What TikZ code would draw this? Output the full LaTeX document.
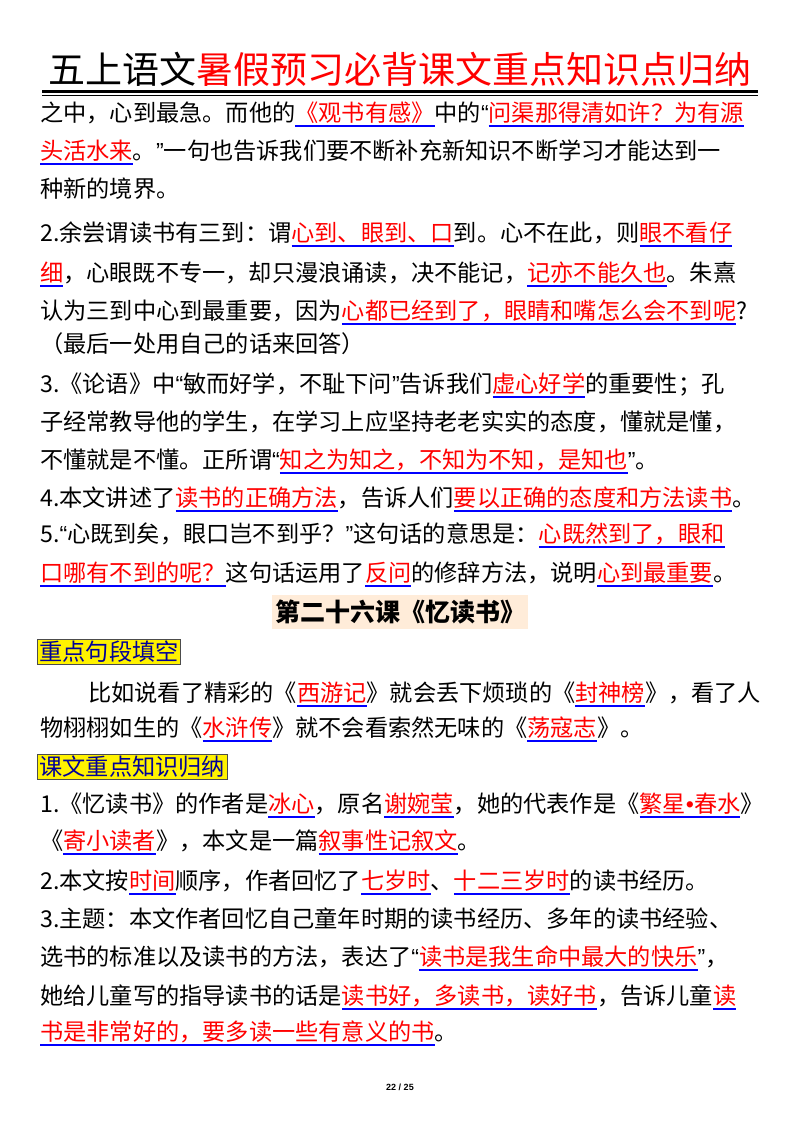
\documentclass[tikz,border=0pt]{standalone}
\usepackage{fontspec}
\newfontfamily\cjk{Noto Sans CJK SC}
\newfontfamily\lat{Liberation Sans}
\newcommand\ql{{\lat“}}
\newcommand\qr{{\lat”}}
\newcommand\dotc{{\lat•}}
\newsavebox\hlbox
\newcommand\hl[1]{\sbox\hlbox{\textcolor{red}{#1}}\rlap{\textcolor{blue}{\rule[-6pt]{\wd\hlbox}{1.8pt}}}\usebox\hlbox}
\begin{document}
\begin{tikzpicture}[x=1pt,y=-1pt,
  ln/.style={anchor=base west,inner sep=0pt,font=\cjk\fontsize{23.2}{28}\selectfont},
  tag/.style={anchor=west,inner sep=2pt,fill=yellow,draw=black!70,line width=0.8pt,text=blue!60!black,font=\cjk\fontsize{23.2}{28}\selectfont}]
\useasboundingbox (0,0) rectangle (800,1132);
\fill[white] (0,0) rectangle (800,1132);
\node[anchor=base,inner sep=0pt,font=\cjk\fontsize{37}{40}\selectfont] (title) at (400,84) {五上语文\textcolor{red}{暑假预习必背课文重点知识点归纳}};
\fill[black] (42,90) rectangle (758,92.5);
\fill[black] (42,94.5) rectangle (758,95.8);
\node[ln] (l1) at (40,121) {之中，心到最急。而他的\hl{《观书有感》}中的\ql\hl{问渠那得清如许？为有源}};
\node[ln] (l2) at (40,159) {\hl{头活水来}。\qr 一句也告诉我们要不断补充新知识不断学习才能达到一};
\node[ln] (l3) at (40,197) {种新的境界。};
\node[ln] (l4) at (40,241) {2.余尝谓读书有三到：谓\hl{心到、眼到、口}到。心不在此，则\hl{眼不看仔}};
\node[ln] (l5) at (40,281) {\hl{细}，心眼既不专一，却只漫浪诵读，决不能记，\hl{记亦不能久也}。朱熹};
\node[ln] (l6) at (40,319) {认为三到中心到最重要，因为\hl{心都已经到了，眼睛和嘴怎么会不到呢}?};
\node[ln] (l7) at (40,352) {（最后一处用自己的话来回答）};
\node[ln] (l8) at (40,392) {3.《论语》中\ql 敏而好学，不耻下问\qr 告诉我们\hl{虚心好学}的重要性；孔};
\node[ln] (l9) at (40,430) {子经常教导他的学生，在学习上应坚持老老实实的态度，懂就是懂，};
\node[ln] (l10) at (40,468) {不懂就是不懂。正所谓\ql\hl{知之为知之，不知为不知，是知也}\qr 。};
\node[ln] (l11) at (40,506) {4.本文讲述了\hl{读书的正确方法}，告诉人们\hl{要以正确的态度和方法读书}。};
\node[ln] (l12) at (40,542) {5.\ql 心既到矣，眼口岂不到乎？\qr 这句话的意思是：\hl{心既然到了，眼和}};
\node[ln] (l13) at (40,581) {\hl{口哪有不到的呢？}这句话运用了\hl{反问}的修辞方法，说明\hl{心到最重要}。};
\node[anchor=center,fill=orange!15,inner xsep=3pt,inner ysep=5pt,font=\cjk\bfseries\fontsize{25}{30}\selectfont] (h1) at (400,612) {第二十六课《忆读书》};
\node[tag] (t1) at (37,652) {重点句段填空};
\node[ln] (l14) at (88,701) {比如说看了精彩的《\hl{西游记}》就会丢下烦琐的《\hl{封神榜}》，看了人};
\node[ln] (l15) at (40,736) {物栩栩如生的《\hl{水浒传}》就不会看索然无味的《\hl{荡寇志}》。};
\node[tag] (t2) at (37,767) {课文重点知识归纳};
\node[ln] (l16) at (40,812) {1.《忆读书》的作者是\hl{冰心}，原名\hl{谢婉莹}，她的代表作是《\hl{繁星\dotc 春水}》};
\node[ln] (l17) at (40,849) {《\hl{寄小读者}》，本文是一篇\hl{叙事性记叙文}。};
\node[ln] (l18) at (40,889) {2.本文按\hl{时间}顺序，作者回忆了\hl{七岁时}、\hl{十二三岁时}的读书经历。};
\node[ln] (l19) at (40,927) {3.主题：本文作者回忆自己童年时期的读书经历、多年的读书经验、};
\node[ln] (l20) at (40,965) {选书的标准以及读书的方法，表达了\ql\hl{读书是我生命中最大的快乐}\qr ，};
\node[ln] (l21) at (40,1004) {她给儿童写的指导读书的话是\hl{读书好，多读书，读好书}，告诉儿童\hl{读}};
\node[ln] (l22) at (40,1040) {\hl{书是非常好的，要多读一些有意义的书}。};
\node[anchor=center,font=\lat\fontsize{9}{10}\selectfont\bfseries] (pg) at (400,1087) {22 / 25};
\end{tikzpicture}
\end{document}
